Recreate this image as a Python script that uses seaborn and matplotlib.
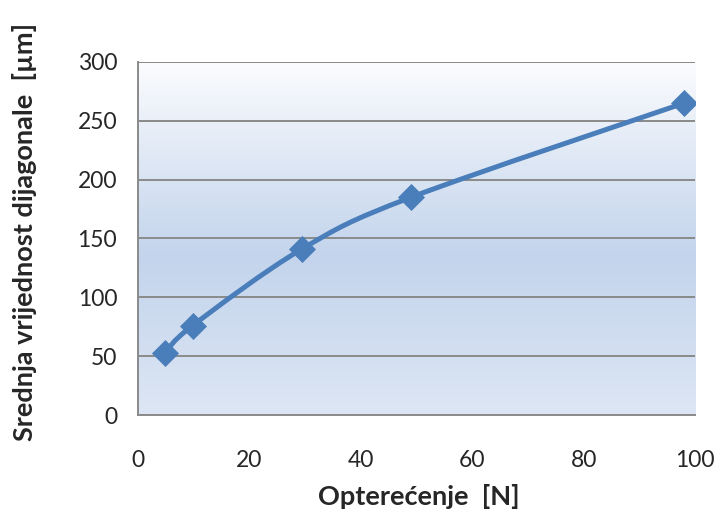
import numpy as np
import pandas as pd
import seaborn as sns
import matplotlib.pyplot as plt
from matplotlib.path import Path
from matplotlib.patches import PathPatch
from matplotlib.colors import LinearSegmentedColormap

# measured values
load_n = [4.9, 9.8, 29.4, 49.0, 98.0]
diag_um = [53, 76, 141, 185, 265]
x_ticks = [0, 20, 40, 60, 80, 100]
y_ticks = [0, 50, 100, 150, 200, 250, 300]

line_col = "#4a7ebb"
txt_col = "#262626"

sns.set_style("white")
plt.rcParams['font.family'] = ['Lato', 'DejaVu Sans']

df = pd.DataFrame({"load": load_n, "diag": diag_um})

fig = plt.figure(figsize=(7.24, 5.29), dpi=100)
ax = fig.add_axes([0.1906, 0.2155, 0.7694, 0.6673])

# excel-like vertical gradient fill
grad = LinearSegmentedColormap.from_list(
    "bg", [(0.0, "#dde6f4"), (0.45, "#c3d4ec"), (1.0, "#fbfcfe")])
ax.imshow(np.linspace(0, 1, 256).reshape(-1, 1), cmap=grad, aspect="auto",
          extent=[0, 1, 0, 1], transform=ax.transAxes, origin="lower", zorder=0)

# smooth line (catmull-rom bezier through the data points, like excel)
pts = df[["load", "diag"]].to_numpy()
verts = [pts[0]]
codes = [Path.MOVETO]
for i in range(len(pts) - 1):
    p0 = pts[i - 1] if i > 0 else pts[i]
    p1, p2 = pts[i], pts[i + 1]
    p3 = pts[i + 2] if i + 2 < len(pts) else pts[i + 1]
    c1 = p1 + (p2 - p0) / 6
    c2 = p2 - (p3 - p1) / 6
    verts += [c1, c2, p2]
    codes += [Path.CURVE4] * 3
ax.add_patch(PathPatch(Path(verts, codes), fill=False, edgecolor=line_col,
                       lw=3.6, capstyle="round", zorder=3))

sns.scatterplot(data=df, x="load", y="diag", marker="D", s=190, color=line_col,
                edgecolor=line_col, linewidth=0, ax=ax, zorder=4)

ax.set_xlim(0, 100)
ax.set_ylim(0, 300)
ax.set_xticks(x_ticks)
ax.set_yticks(y_ticks)
ax.yaxis.grid(True, color="#8a8a8a", lw=1.4)
ax.set_axisbelow(False)
for l in ax.get_ygridlines():
    l.set_zorder(1)
for s in ["top", "right"]:
    ax.spines[s].set_visible(False)
for s in ["left", "bottom"]:
    ax.spines[s].set_color("#8a8a8a")
    ax.spines[s].set_linewidth(1.4)
ax.tick_params(axis="both", length=0, labelsize=16.5, colors=txt_col)
ax.tick_params(axis="x", pad=25)
ax.tick_params(axis="y", pad=15)

ax.set_xlabel("Opterećenje  [N]", fontsize=19.5, fontweight="bold", color=txt_col)
ax.set_ylabel("Srednja vrijednost dijagonale  [µm]", fontsize=19.5,
              fontweight="bold", color=txt_col)
ax.xaxis.set_label_coords(0.504, -0.196)
ax.yaxis.set_label_coords(-0.182, 0.518)

fig.savefig("out.png", dpi=100)
